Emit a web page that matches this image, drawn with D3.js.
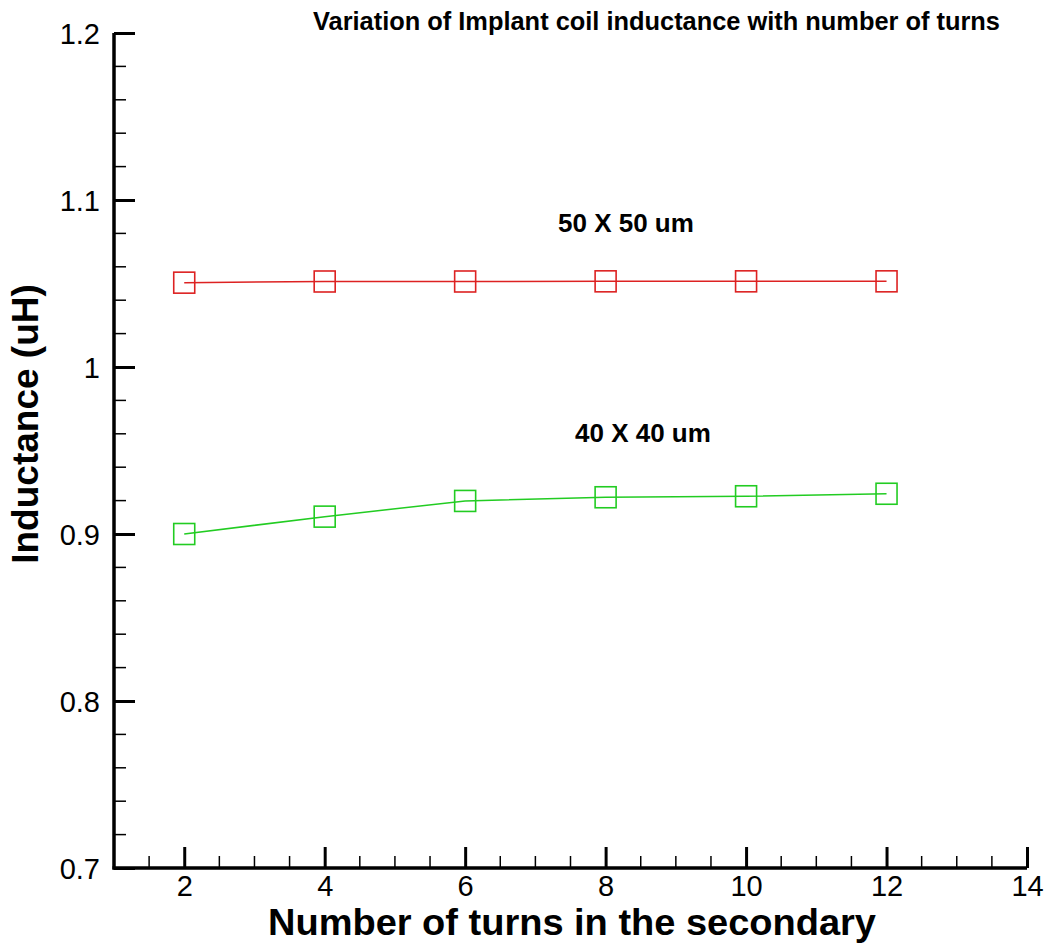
<!DOCTYPE html>
<html>
<head>
<meta charset="utf-8">
<script src="https://cdn.jsdelivr.net/npm/d3@7"></script>
<style>
  html, body { margin: 0; padding: 0; background: #fff; }
  svg { display: block; font-family: "Liberation Sans", Arial, sans-serif; }
</style>
</head>
<body>
<div id="chart"></div>
<script>
// Data
var turns = [2, 4, 6, 8, 10, 12];
var coil50 = [1.0505, 1.0512, 1.0512, 1.0513, 1.0513, 1.0513];
var coil40 = [0.900, 0.9104, 0.9198, 0.9220, 0.9226, 0.9241];
var xTicks = [2, 4, 6, 8, 10, 12, 14];
var yTicks = [0.7, 0.8, 0.9, 1.0, 1.1, 1.2];

var width = 1049, height = 945;

var svg = d3.select("#chart")
  .append("svg")
  .attr("width", width)
  .attr("height", height);

// Scales
var x = d3.scaleLinear().domain([1, 14]).range([114, 1027]);
var y = d3.scaleLinear().domain([0.7, 1.2]).range([868, 33]);

// Minor ticks
var xMinor = d3.range(1.5, 14, 0.5).filter(function (v) { return Math.abs(v - Math.round(v / 2) * 2) > 1e-6; });
var yMinor = d3.range(0.72, 1.2, 0.02).filter(function (v) { return Math.abs(v * 10 - Math.round(v * 10)) > 1e-6; });

// Axes: ticks point into the plot
var xAxis = d3.axisBottom(x)
  .tickValues(xTicks)
  .tickSize(-21)
  .tickPadding(28)
  .tickFormat(d3.format("d"));

var yAxis = d3.axisLeft(y)
  .tickValues(yTicks)
  .tickSize(-21)
  .tickPadding(14)
  .tickFormat(function (d) { return d === 1 ? "1" : d3.format(".1f")(d); });

var gx = svg.append("g")
  .attr("transform", "translate(0," + y(0.7) + ")")
  .call(xAxis);

var gy = svg.append("g")
  .attr("transform", "translate(" + x(1) + ",0)")
  .call(yAxis);

[gx, gy].forEach(function (g) {
  g.select(".domain").attr("stroke", "#000").attr("stroke-width", 3.5);
  g.selectAll(".tick line").attr("stroke", "#000").attr("stroke-width", 3);
  g.selectAll(".tick text")
    .attr("fill", "#000")
    .style("font-size", "29px");
});
gx.select(".domain").attr("d", "M" + (x(1) - 1.5) + ",0H" + x(14));
gy.select(".domain").attr("d", "M0," + (y(0.7) + 1.5) + "V" + y(1.2));
gx.selectAll(".tick text").attr("dy", "0");
gy.selectAll(".tick text").attr("dy", "0.36em");

// Minor tick marks
svg.append("g")
  .selectAll("line")
  .data(xMinor)
  .enter().append("line")
  .attr("x1", function (d) { return x(d); })
  .attr("x2", function (d) { return x(d); })
  .attr("y1", y(0.7))
  .attr("y2", y(0.7) - 12)
  .attr("stroke", "#000")
  .attr("stroke-width", 1.5);

svg.append("g")
  .selectAll("line")
  .data(yMinor)
  .enter().append("line")
  .attr("x1", x(1))
  .attr("x2", x(1) + 12)
  .attr("y1", function (d) { return y(d); })
  .attr("y2", function (d) { return y(d); })
  .attr("stroke", "#000")
  .attr("stroke-width", 1.5);

// Series
var series = [
  { name: "50 X 50 um", values: coil50, color: "#dd2222" },
  { name: "40 X 40 um", values: coil40, color: "#22cc22" }
];

var line = d3.line()
  .x(function (d) { return x(d[0]); })
  .y(function (d) { return y(d[1]); });

var markerSize = 21;

series.forEach(function (s) {
  var pts = turns.map(function (t, i) { return [t, s.values[i]]; });

  svg.append("path")
    .datum(pts)
    .attr("fill", "none")
    .attr("stroke", s.color)
    .attr("stroke-width", 1.5)
    .attr("d", line);

  svg.append("g")
    .selectAll("rect")
    .data(pts)
    .enter().append("rect")
    .attr("x", function (d) { return x(d[0]) - markerSize / 2; })
    .attr("y", function (d) { return y(d[1]) - markerSize / 2; })
    .attr("width", markerSize)
    .attr("height", markerSize)
    .attr("fill", "none")
    .attr("stroke", s.color)
    .attr("stroke-width", 1.6);
});

// Series labels
svg.append("text")
  .attr("x", 558)
  .attr("y", 232)
  .style("font-size", "26px")
  .style("font-weight", "bold")
  .text("50 X 50 um");

svg.append("text")
  .attr("x", 575)
  .attr("y", 442)
  .style("font-size", "26px")
  .style("font-weight", "bold")
  .text("40 X 40 um");

// Title
svg.append("text")
  .attr("x", 313)
  .attr("y", 30)
  .attr("textLength", 687)
  .attr("lengthAdjust", "spacingAndGlyphs")
  .style("font-size", "25px")
  .style("font-weight", "bold")
  .text("Variation of Implant coil inductance with number of turns");

// Axis titles
svg.append("text")
  .attr("x", 572)
  .attr("y", 935)
  .attr("text-anchor", "middle")
  .attr("textLength", 608)
  .attr("lengthAdjust", "spacingAndGlyphs")
  .style("font-size", "36px")
  .style("font-weight", "bold")
  .text("Number of turns in the secondary");

svg.append("text")
  .attr("transform", "translate(38,424) rotate(-90)")
  .attr("text-anchor", "middle")
  .style("font-size", "37px")
  .style("font-weight", "bold")
  .text("Inductance (uH)");
</script>
</body>
</html>
